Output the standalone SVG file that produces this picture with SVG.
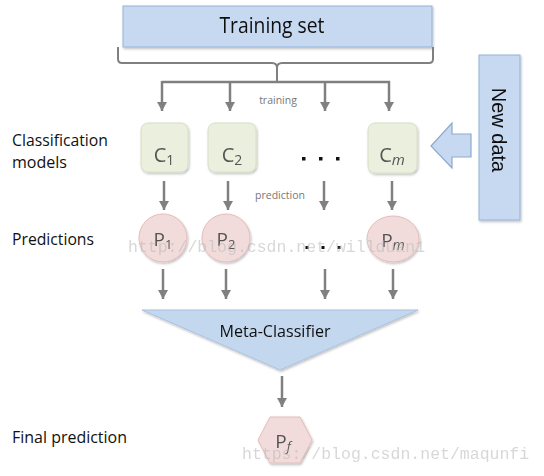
<svg xmlns="http://www.w3.org/2000/svg" width="544" height="476" viewBox="0 0 544 476">
<defs>
<style>
.lbl{font-family:"Open Sans",Lato,"Liberation Sans",sans-serif;font-size:15.5px;fill:#111}
.cap{font-family:"Open Sans",Lato,"Liberation Sans",sans-serif;fill:#555;text-anchor:middle}
.small{font-family:"Open Sans",Lato,"Liberation Sans",sans-serif;font-size:10.5px;fill:#777;text-anchor:middle}
.cbox{fill:#ebf0de;stroke:#d6dec4;stroke-width:1}
.pc{fill:#f2dcdb;stroke:#e4bcbb;stroke-width:1}
.blue{fill:#c6d9f1;stroke:#94b3d8;stroke-width:1}
.con{stroke:#808080;stroke-width:2.5;fill:none}
.wm{font-family:"Liberation Mono","DejaVu Sans Mono",monospace;font-size:16.5px;fill:#b8b8b8;opacity:0.55}
.dot{fill:#111}
</style>
<marker id="ah" markerUnits="userSpaceOnUse" markerWidth="11" markerHeight="11" refX="9" refY="5" orient="auto">
<path d="M0,0 L9,5 L0,10 z" fill="#808080"/>
</marker>
<filter id="sh" x="-20%" y="-20%" width="140%" height="140%">
<feDropShadow dx="1" dy="1.5" stdDeviation="1" flood-color="#000" flood-opacity="0.25"/>
</filter>
</defs>

<g id="training-set" filter="url(#sh)">
<rect class="blue" x="123" y="6" width="309" height="41"/>
<text class="cap" x="272" y="33" style="font-size:21px;fill:#111" textLength="105" lengthAdjust="spacingAndGlyphs">Training set</text>
</g>

<g id="connectors">
<path class="con" style="stroke-width:2" d="M118,47 V59 Q118,63 122,63 H272 Q277,63 277,68 V82 M277,68 Q277,63 282,63 H429 Q433,63 433,59 V47"/>
<path class="con" d="M162,82 H390"/>
<path class="con" d="M162,81 V111" marker-end="url(#ah)"/>
<path class="con" d="M230,82 V111" marker-end="url(#ah)"/>
<path class="con" d="M325,82 V111" marker-end="url(#ah)"/>
<path class="con" d="M389,81 V111" marker-end="url(#ah)"/>
<path class="con" d="M164,181 V210" marker-end="url(#ah)"/>
<path class="con" d="M228,181 V210" marker-end="url(#ah)"/>
<path class="con" d="M324,181 V210" marker-end="url(#ah)"/>
<path class="con" d="M392,181 V210" marker-end="url(#ah)"/>
<path class="con" d="M163,269 V299" marker-end="url(#ah)"/>
<path class="con" d="M226,269 V299" marker-end="url(#ah)"/>
<path class="con" d="M325,269 V299" marker-end="url(#ah)"/>
<path class="con" d="M393,269 V299" marker-end="url(#ah)"/>
<path class="con" d="M282,376 V407" marker-end="url(#ah)"/>
<text class="small" x="278" y="104">training</text>
<text class="small" x="280" y="199">prediction</text>
</g>

<g id="labels">
<text class="lbl" x="12" y="146" textLength="96" lengthAdjust="spacingAndGlyphs">Classification</text>
<text class="lbl" x="12" y="168" textLength="55" lengthAdjust="spacingAndGlyphs">models</text>
<text class="lbl" x="12" y="245" textLength="82" lengthAdjust="spacingAndGlyphs">Predictions</text>
<text class="lbl" x="12" y="443" textLength="115" lengthAdjust="spacingAndGlyphs">Final prediction</text>
</g>

<g id="c1" filter="url(#sh)">
<rect class="cbox" x="141" y="123" width="47" height="49" rx="7"/>
<text class="cap" x="164" y="162" style="font-size:20px">C<tspan style="font-size:14px" dy="3">1</tspan></text>
</g>
<g id="c2" filter="url(#sh)">
<rect class="cbox" x="208" y="123" width="48" height="49" rx="7"/>
<text class="cap" x="232" y="162" style="font-size:20px">C<tspan style="font-size:14px" dy="3">2</tspan></text>
</g>
<g id="c-dots">
<rect class="dot" x="302" y="157" width="3.5" height="3.5"/>
<rect class="dot" x="319" y="157" width="3.5" height="3.5"/>
<rect class="dot" x="336" y="157" width="3.5" height="3.5"/>
</g>
<g id="cm" filter="url(#sh)">
<rect class="cbox" x="368" y="123" width="49" height="50" rx="7"/>
<text class="cap" x="392" y="162" style="font-size:20px">C<tspan style="font-size:15px;font-style:italic" dy="3">m</tspan></text>
</g>

<g id="new-data" filter="url(#sh)">
<rect class="blue" x="479" y="55" width="41" height="165"/>
<text x="0" y="0" transform="translate(492,130) rotate(90)" style="font-family:'Liberation Sans',Arial,sans-serif;font-size:20px;fill:#111;text-anchor:middle">New data</text>
</g>
<g id="new-data-arrow">
<path d="M431,146 L452,123 V134 H471 V157 H452 V168 z" fill="#c6d9f1" stroke="#8fa9cc" stroke-width="1.2"/>
</g>

<g id="p1" filter="url(#sh)">
<circle class="pc" cx="163" cy="238" r="24"/>
<text class="cap" x="163" y="246" style="font-size:19px">P<tspan style="font-size:13px" dy="3">1</tspan></text>
</g>
<g id="p2" filter="url(#sh)">
<circle class="pc" cx="226" cy="238" r="24"/>
<text class="cap" x="226" y="246" style="font-size:19px">P<tspan style="font-size:13px" dy="3">2</tspan></text>
</g>
<g id="p-dots">
<rect class="dot" x="305.5" y="246" width="3" height="3"/>
<rect class="dot" x="321.5" y="246" width="3" height="3"/>
<rect class="dot" x="337.5" y="246" width="3" height="3"/>
</g>
<g id="pm" filter="url(#sh)">
<ellipse class="pc" cx="393" cy="239" rx="26" ry="23"/>
<text class="cap" x="393" y="247" style="font-size:19px">P<tspan style="font-size:14px;font-style:italic" dy="3">m</tspan></text>
</g>

<g id="meta-classifier" filter="url(#sh)">
<path d="M142,310 H418 L280,370 z" fill="#c3d7ef" stroke="#a9c1e0" stroke-width="1"/>
<text class="cap" x="275" y="337" style="font-size:15.5px;fill:#111" textLength="111" lengthAdjust="spacingAndGlyphs">Meta-Classifier</text>
</g>

<g id="pf" filter="url(#sh)">
<path class="pc" d="M258,440 L270,417 H300 L312,440 L300,463 H270 z"/>
<text class="cap" x="283" y="448" style="font-size:19px">P<tspan style="font-size:13px;font-style:italic" dy="3">f</tspan></text>
</g>

<g id="watermarks">
<text class="wm" x="128" y="252">http://blog.csdn.net/willduan1</text>
<text class="wm" x="242" y="459">https://blog.csdn.net/maqunfi</text>
</g>
</svg>
